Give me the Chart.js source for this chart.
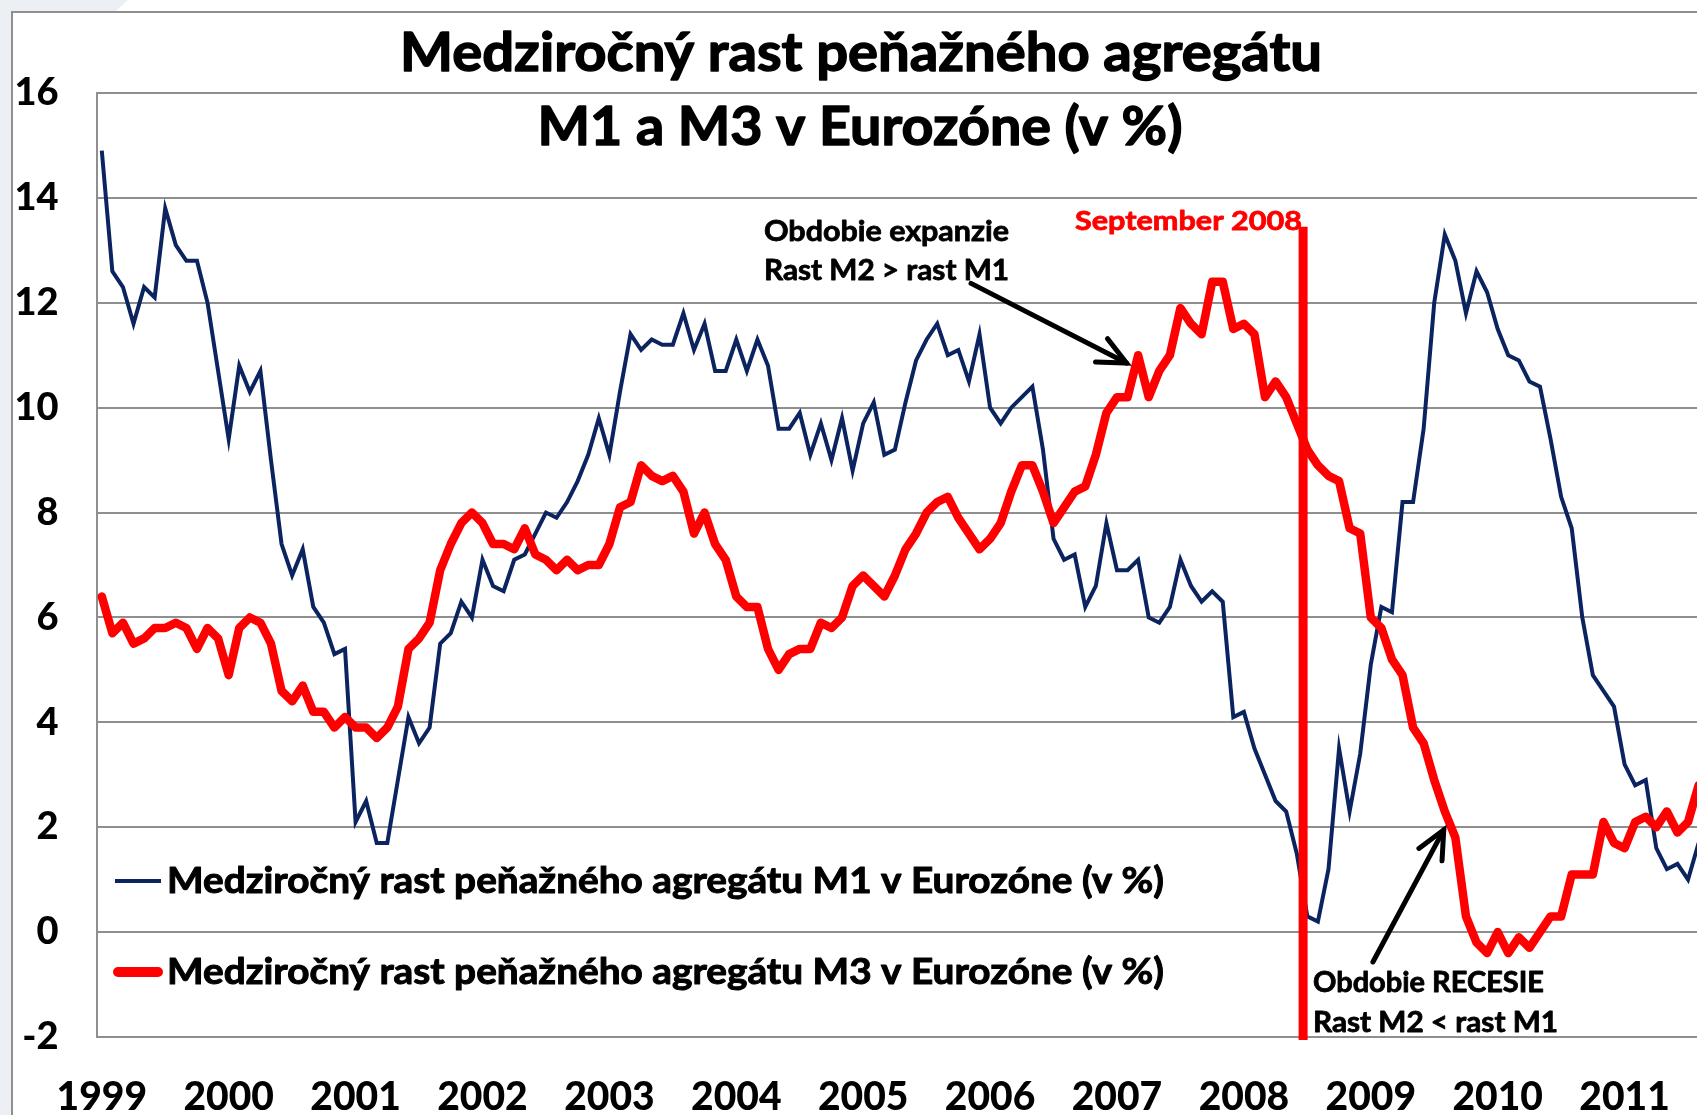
<!DOCTYPE html>
<html>
<head>
<meta charset="utf-8">
<script src="https://cdn.jsdelivr.net/npm/chart.js@4"></script>
<style>
  html, body { margin: 0; padding: 0; background: #fff; overflow: hidden; }
  #wrap { position: relative; width: 1697px; height: 1115px; overflow: hidden; }
  #strip { position: absolute; left: 0; top: 0; width: 11px; height: 1115px; background: #eceff3; }
  #corner { position: absolute; left: 0; top: 0; width: 140px; height: 11px; background: #eceff3;
            clip-path: polygon(0 0, 128px 0, 116px 11px, 0 11px); }
  canvas { position: absolute; left: 0; top: 0; }
</style>
</head>
<body>
<div id="wrap">
  <div id="strip"></div>
  <div id="corner"></div>
  <canvas id="chart" width="1760" height="1115"></canvas>
</div>
<script>
const FONT = 'Lato, "Open Sans", "DejaVu Sans", sans-serif';
const WEIGHT = "900";

// one label per January, the rest of the months stay unlabeled
const years = [1999, 2000, 2001, 2002, 2003, 2004, 2005, 2006, 2007, 2008, 2009, 2010, 2011];

// Medziročný rast M1 (v %), mesačne od 01/1999
const m1Growth = [
  14.9, 12.6, 12.3, 11.6, 12.3, 12.1, 13.8, 13.1, 12.8, 12.8, 12.0, 10.7,
  9.4, 10.8, 10.3, 10.7, 9.0, 7.4, 6.8, 7.3, 6.2, 5.9, 5.3, 5.4,
  2.1, 2.5, 1.7, 1.7, 2.9, 4.1, 3.6, 3.9, 5.5, 5.7, 6.3, 6.0,
  7.1, 6.6, 6.5, 7.1, 7.2, 7.6, 8.0, 7.9, 8.2, 8.6, 9.1, 9.8,
  9.1, 10.3, 11.4, 11.1, 11.3, 11.2, 11.2, 11.8, 11.1, 11.6, 10.7, 10.7,
  11.3, 10.7, 11.3, 10.8, 9.6, 9.6, 9.9, 9.1, 9.7, 9.0, 9.8, 8.8,
  9.7, 10.1, 9.1, 9.2, 10.1, 10.9, 11.3, 11.6, 11.0, 11.1, 10.5, 11.4,
  10.0, 9.7, 10.0, 10.2, 10.4, 9.2, 7.5, 7.1, 7.2, 6.2, 6.6, 7.8,
  6.9, 6.9, 7.1, 6.0, 5.9, 6.2, 7.1, 6.6, 6.3, 6.5, 6.3, 4.1,
  4.2, 3.5, 3.0, 2.5, 2.3, 1.5, 0.3, 0.2, 1.2, 3.5, 2.3, 3.4,
  5.1, 6.2, 6.1, 8.2, 8.2, 9.6, 12.0, 13.3, 12.8, 11.8, 12.6, 12.2,
  11.5, 11.0, 10.9, 10.5, 10.4, 9.4, 8.3, 7.7, 6.0, 4.9, 4.6, 4.3,
  3.2, 2.8, 2.9, 1.6, 1.2, 1.3, 1.0, 1.7
];

// Medziročný rast M3 (v %), mesačne od 01/1999
const m3Growth = [
  6.4, 5.7, 5.9, 5.5, 5.6, 5.8, 5.8, 5.9, 5.8, 5.4, 5.8, 5.6,
  4.9, 5.8, 6.0, 5.9, 5.5, 4.6, 4.4, 4.7, 4.2, 4.2, 3.9, 4.1,
  3.9, 3.9, 3.7, 3.9, 4.3, 5.4, 5.6, 5.9, 6.9, 7.4, 7.8, 8.0,
  7.8, 7.4, 7.4, 7.3, 7.7, 7.2, 7.1, 6.9, 7.1, 6.9, 7.0, 7.0,
  7.4, 8.1, 8.2, 8.9, 8.7, 8.6, 8.7, 8.4, 7.6, 8.0, 7.4, 7.1,
  6.4, 6.2, 6.2, 5.4, 5.0, 5.3, 5.4, 5.4, 5.9, 5.8, 6.0, 6.6,
  6.8, 6.6, 6.4, 6.8, 7.3, 7.6, 8.0, 8.2, 8.3, 7.9, 7.6, 7.3,
  7.5, 7.8, 8.4, 8.9, 8.9, 8.4, 7.8, 8.1, 8.4, 8.5, 9.1, 9.9,
  10.2, 10.2, 11.0, 10.2, 10.7, 11.0, 11.9, 11.6, 11.4, 12.4, 12.4, 11.5,
  11.6, 11.4, 10.2, 10.5, 10.2, 9.7, 9.2, 8.9, 8.7, 8.6, 7.7, 7.6,
  6.0, 5.8, 5.2, 4.9, 3.9, 3.6, 2.9, 2.3, 1.8, 0.3, -0.2, -0.4,
  0.0, -0.4, -0.1, -0.3, 0.0, 0.3, 0.3, 1.1, 1.1, 1.1, 2.1, 1.7,
  1.6, 2.1, 2.2, 2.0, 2.3, 1.9, 2.1, 2.8
];

const seriesNames = [
  "Medziročný rast peňažného agregátu M1 v Eurozóne (v %)",
  "Medziročný rast peňažného agregátu M3 v Eurozóne (v %)"
];
const titleLines = ["Medziročný rast peňažného agregátu", "M1 a M3 v Eurozóne (v %)"];

// september 2008 marker (month index from 01/1999) and the two arrows, in data units
const crisisMonth = 113.6;
const crisisTop = 13.45;
const arrows = [
  { from: [82.2, 12.37], to: [96.9, 10.85] },
  { from: [120.2, -0.57], to: [126.9, 1.95] }
];

const BLUE = "#0b2460";
const RED = "#ff0000";

const labels = [];
years.forEach((y) => {
  for (let m = 1; m <= 12; m++) labels.push(y + "-" + m);
});

// bold text squeezed to the width it has in the original, with a thin outline to make it heavier
function fitText(ctx, text, x, y, size, width, align, color, heavy) {
  ctx.save();
  ctx.font = "bold " + size + "px " + FONT;
  const w = ctx.measureText(text).width;
  ctx.translate(x, y);
  ctx.scale(width / w, 1);
  ctx.textAlign = align;
  ctx.textBaseline = "alphabetic";
  ctx.fillStyle = color;
  ctx.fillText(text, 0, 0);
  ctx.strokeStyle = color;
  ctx.lineWidth = heavy;
  ctx.lineJoin = "round";
  ctx.strokeText(text, 0, 0);
  ctx.restore();
}

function drawArrow(ctx, x1, y1, x2, y2) {
  const ang = Math.atan2(y2 - y1, x2 - x1);
  const len = 31;
  const spread = (25 * Math.PI) / 180;
  ctx.save();
  ctx.strokeStyle = "#000";
  ctx.lineWidth = 5;
  ctx.lineCap = "round";
  ctx.lineJoin = "miter";
  ctx.beginPath();
  ctx.moveTo(x1, y1);
  ctx.lineTo(x2, y2);
  ctx.stroke();
  ctx.beginPath();
  ctx.moveTo(x2 - len * Math.cos(ang - spread), y2 - len * Math.sin(ang - spread));
  ctx.lineTo(x2, y2);
  ctx.lineTo(x2 - len * Math.cos(ang + spread), y2 - len * Math.sin(ang + spread));
  ctx.stroke();
  ctx.restore();
}

const decor = {
  id: "decor",
  beforeDraw(chart) {
    const ctx = chart.ctx;
    ctx.save();
    ctx.fillStyle = "#fff";
    ctx.fillRect(11, 11, chart.width - 11, chart.height - 11);
    ctx.strokeStyle = "#8f8f8f";
    ctx.lineWidth = 2;
    ctx.beginPath();
    ctx.moveTo(12, chart.height);
    ctx.lineTo(12, 12);
    ctx.lineTo(chart.width, 12);
    ctx.stroke();
    ctx.restore();
  },
  afterDatasetsDraw(chart) {
    const ctx = chart.ctx;
    const xs = chart.scales.x;
    const ys = chart.scales.y;
    const area = chart.chartArea;

    // september 2008
    const cx = xs.getPixelForValue(crisisMonth);
    ctx.save();
    ctx.strokeStyle = RED;
    ctx.lineWidth = 9;
    ctx.beginPath();
    ctx.moveTo(cx, ys.getPixelForValue(crisisTop));
    ctx.lineTo(cx, area.bottom + 3);
    ctx.stroke();
    ctx.restore();
    fitText(ctx, "September 2008", 1075, 230, 27, 227, "left", RED, 0.8);

    arrows.forEach((a) => {
      drawArrow(ctx,
        xs.getPixelForValue(a.from[0]), ys.getPixelForValue(a.from[1]),
        xs.getPixelForValue(a.to[0]), ys.getPixelForValue(a.to[1]));
    });

    fitText(ctx, "Obdobie expanzie", 764, 241, 29, 245, "left", "#000", 0.8);
    fitText(ctx, "Rast M2 > rast M1", 764, 280, 29, 245, "left", "#000", 0.8);
    fitText(ctx, "Obdobie RECESIE", 1313, 992, 28, 231, "left", "#000", 0.8);
    fitText(ctx, "Rast M2 < rast M1", 1313, 1032, 28, 245, "left", "#000", 0.8);

    // legend
    ctx.save();
    ctx.lineCap = "butt";
    ctx.strokeStyle = BLUE;
    ctx.lineWidth = 4;
    ctx.beginPath();
    ctx.moveTo(115, 881);
    ctx.lineTo(161, 881);
    ctx.stroke();
    ctx.lineCap = "round";
    ctx.strokeStyle = RED;
    ctx.lineWidth = 10;
    ctx.beginPath();
    ctx.moveTo(118, 972);
    ctx.lineTo(158, 972);
    ctx.stroke();
    ctx.restore();
    fitText(ctx, seriesNames[0], 167, 893, 36, 997, "left", "#000", 1);
    fitText(ctx, seriesNames[1], 167, 984, 36, 997, "left", "#000", 1);

    // title
    fitText(ctx, titleLines[0], 861, 71, 53, 922, "center", "#000", 1.4);
    fitText(ctx, titleLines[1], 860, 145, 53, 645, "center", "#000", 1.4);
  }
};

const chart = new Chart(document.getElementById("chart").getContext("2d"), {
  type: "line",
  data: {
    labels: labels,
    datasets: [
      {
        label: seriesNames[0],
        data: m1Growth,
        borderColor: BLUE,
        backgroundColor: BLUE,
        borderWidth: 4,
        pointRadius: 0,
        tension: 0,
        order: 1
      },
      {
        label: seriesNames[1],
        data: m3Growth,
        borderColor: RED,
        backgroundColor: RED,
        borderWidth: 8.5,
        borderJoinStyle: "round",
        borderCapStyle: "round",
        pointRadius: 0,
        tension: 0,
        order: 0
      }
    ]
  },
  options: {
    responsive: false,
    animation: false,
    devicePixelRatio: 1,
    layout: { padding: { top: 93, right: 13.8, left: 0, bottom: 0 } },
    plugins: {
      legend: { display: false },
      title: { display: false },
      tooltip: { enabled: false }
    },
    scales: {
      x: {
        offset: true,
        grid: { display: false, drawTicks: false },
        border: { display: false },
        ticks: {
          autoSkip: false,
          maxRotation: 0,
          minRotation: 0,
          padding: 37,
          color: "#000",
          font: { family: FONT, size: 39, weight: WEIGHT },
          callback: (value, index) => (index % 12 === 0 ? String(years[index / 12]) : null)
        },
        afterFit(scale) {
          scale.height = 78;
        }
      },
      y: {
        min: -2,
        max: 16,
        grid: { color: "#8f8f8f", lineWidth: 2, drawTicks: false },
        border: { display: true, color: "#8f8f8f", width: 2 },
        ticks: {
          stepSize: 2,
          padding: 38,
          color: "#000",
          font: { family: FONT, size: 38, weight: WEIGHT }
        },
        afterFit(scale) {
          scale.width = 96.5;
        }
      }
    }
  },
  plugins: [decor]
});
</script>
</body>
</html>
